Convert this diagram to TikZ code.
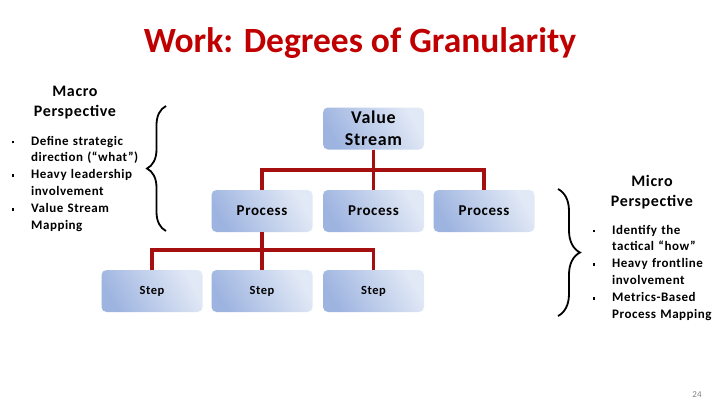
\documentclass[tikz,border=0pt]{standalone}
\usepackage{fontspec}
\setmainfont{Carlito}[LetterSpace=4]
\newfontfamily\titlefont{Carlito}
\usepackage{enumitem}
\usetikzlibrary{decorations.pathreplacing}
\definecolor{titlered}{RGB}{192,0,0}
\definecolor{linkred}{RGB}{165,15,15}
\definecolor{boxA}{RGB}{158,180,224}
\definecolor{boxB}{RGB}{226,233,246}
\definecolor{pgnum}{RGB}{128,128,128}
\newcommand{\sqb}{\rule[0.25ex]{2.6pt}{2.6pt}}
\tikzset{
  box/.style={rounded corners=5pt, minimum width=101pt, minimum height=42pt, inner sep=0pt,
    left color=boxA, right color=boxB, shading angle=120, align=center, text=black},
  link/.style={draw=linkred, line width=3.2pt},
  brc/.style={decorate, decoration={brace, amplitude=#1}, line width=1.8pt, black},
  head/.style={align=center, font=\bfseries\fontsize{16}{20.5}\selectfont},
  listtext/.style={align=left, font=\bfseries\fontsize{13}{16.8}\selectfont, text width=135pt, inner sep=0pt, anchor=north west}
}
\begin{document}
\begin{tikzpicture}[x=1pt,y=-1pt]
\useasboundingbox (0,0) rectangle (720,405);
\fill[white] (0,0) rectangle (720,405);
\node[font=\titlefont\bfseries\fontsize{35.5}{40}\selectfont, text=titlered] (title) at (360,43) {Work: Degrees of Granularity};

\node[box, font=\bfseries\fontsize{18}{22}\selectfont] (vs) at (373.5,128.5) {Value\\Stream};
\node[box, font=\bfseries\fontsize{15}{18}\selectfont] (p1) at (262,211) {Process};
\node[box, font=\bfseries\fontsize{15}{18}\selectfont] (p2) at (373.5,211) {Process};
\node[box, font=\bfseries\fontsize{15}{18}\selectfont] (p3) at (484,211) {Process};
\node[box, font=\bfseries\fontsize{12.5}{16}\selectfont] (s1) at (152,291) {Step};
\node[box, font=\bfseries\fontsize{12.5}{16}\selectfont] (s2) at (262,291) {Step};
\node[box, font=\bfseries\fontsize{12.5}{16}\selectfont] (s3) at (373.5,291) {Step};

\coordinate (j1) at (373.5,170);
\coordinate (j2) at (262,250);
\draw[link] (vs.south) -- (j1);
\draw[link] (j1) -| (p1.north);
\draw[link] (j1) -| (p3.north);
\draw[link] (j1) -- (p2.north);
\draw[link] (p1.south) -- (j2);
\draw[link] (j2) -| (s1.north);
\draw[link] (j2) -| (s3.north);
\draw[link] (j2) -- (s2.north);

\coordinate (lb1) at (166,231);
\coordinate (lb2) at (166,106);
\draw[brc=19pt] (lb1) -- (lb2);
\coordinate (rb1) at (558,189);
\coordinate (rb2) at (558,316);
\draw[brc=22pt] (rb1) -- (rb2);

\node[head] (macro) at (75,102.5) {Macro\\Perspective};
\node[listtext] (macrolist) at (8,128) {%
\begin{itemize}[leftmargin=23pt,labelsep=17pt,labelwidth=6pt,itemsep=0pt,topsep=0pt,parsep=0pt,partopsep=0pt,label=\sqb]
\item Define strategic\\direction (“what”)
\item Heavy leadership\\involvement
\item Value Stream\\Mapping
\end{itemize}};

\node[head] (micro) at (652,192) {Micro\\Perspective};
\node[listtext] (microlist) at (590,217) {%
\begin{itemize}[leftmargin=22pt,labelsep=17pt,labelwidth=5pt,itemsep=0pt,topsep=0pt,parsep=0pt,partopsep=0pt,label=\sqb]
\item Identify the\\tactical “how”
\item Heavy frontline\\involvement
\item Metrics-Based\\Process Mapping
\end{itemize}};

\node[font=\fontsize{9}{10}\selectfont, text=pgnum] (pg) at (697,395) {24};
\end{tikzpicture}
\end{document}
